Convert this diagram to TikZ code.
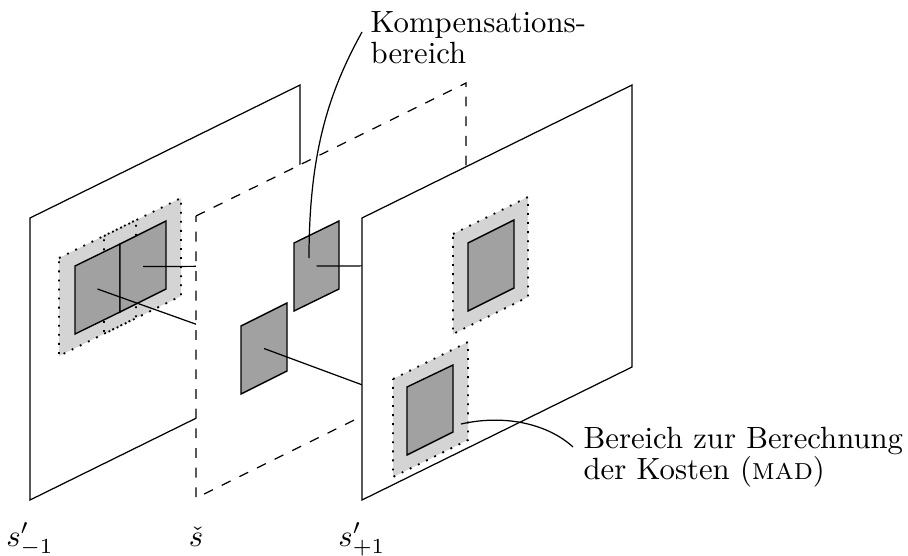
\documentclass[tikz,border=0pt]{standalone}
\begin{document}
\begin{tikzpicture}[x=0.3255pt,y=-0.3255pt,
  plane/.style={draw,fill=white,line width=0.4pt},
  midplane/.style={draw,dash pattern=on 3.2pt off 3.2pt,fill=white,line width=0.4pt},
  searchfill/.style={fill=black!17},
  searchedge/.style={draw,line width=0.6pt,dash pattern=on 0.6pt off 2.35pt},
  block/.style={draw,fill=black!37,line width=0.45pt},
  link/.style={draw,line width=0.4pt},
  callout/.style={draw,line width=0.4pt},
  lbl/.style={inner sep=0pt,align=left},
  planelbl/.style={anchor=base,inner sep=0pt}]
\useasboundingbox (0,0) rectangle (908,555);

% block centres
\coordinate (d1) at (97.5,289);
\coordinate (d2) at (143,266.5);
\coordinate (m1) at (316.5,266);
\coordinate (m2) at (264,348.5);
\coordinate (r1) at (491,265.5);
\coordinate (r2) at (430,410);

% ---- left plane s'_{-1}
\draw[plane] (30,218) -- (300,85) -- (300,367) -- (30,500) -- cycle;
\fill[searchfill] (59,258) -- (136,220) -- (136,318) -- (59,356) -- cycle;
\fill[searchfill] (104,236) -- (181,198) -- (181,296) -- (104,334) -- cycle;
\draw[searchedge] (59,258) -- (136,220) -- (136,318) -- (59,356) -- cycle;
\draw[searchedge] (104,236) -- (181,198) -- (181,296) -- (104,334) -- cycle;
\draw[block] (75,266) -- (120,244) -- (120,312) -- (75,334) -- cycle;
\draw[block] (120,244) -- (166,221) -- (166,289) -- (120,312) -- cycle;
\draw[link] (d2) -- (m1);
\draw[link] (d1) -- (m2);

% ---- middle plane
\draw[midplane] (196,216) -- (466,83) -- (466,365) -- (196,498) -- cycle;
\draw[block] (294,243) -- (339,221) -- (339,289) -- (294,311) -- cycle;
\draw[block] (241,326) -- (287,303) -- (287,371) -- (241,394) -- cycle;
\draw[link] (m1) -- (r1);
\draw[link] (m2) -- (r2);

% ---- right plane s'_{+1}
\draw[plane] (362,218) -- (632,85) -- (632,367) -- (362,500) -- cycle;
\fill[searchfill] (453,234) -- (528,197) -- (528,297) -- (453,334) -- cycle;
\draw[searchedge] (453,234) -- (528,197) -- (528,297) -- (453,334) -- cycle;
\draw[block] (468,243) -- (514,220) -- (514,288) -- (468,311) -- cycle;
\fill[searchfill] (393,379) -- (468,342) -- (468,440) -- (393,477) -- cycle;
\draw[searchedge] (393,379) -- (468,342) -- (468,440) -- (393,477) -- cycle;
\draw[block] (407,387) -- (453,365) -- (453,432) -- (407,455) -- cycle;

% ---- labels
\node[lbl,anchor=north west] (komp) at (370,11) {Kompensations-\\[-2pt]bereich};
\node[lbl,anchor=north west] (mad) at (583,427) {Bereich zur Berechnung\\[-2pt]der Kosten (\textsc{mad})};
\node[planelbl] (lm) at (30,546) {$s'_{-1}$};
\node[planelbl] (lc) at (196,546) {$\check{s}$};
\node[planelbl] (lp) at (362,546) {$s'_{+1}$};

% ---- callouts
\coordinate (kompend) at (362,32);
\coordinate (kompbox) at (309,258);
\coordinate (madstart) at (461,424);
\coordinate (madend) at (573,447);
\draw[callout] (kompbox) .. controls (309,150) and (330,90) .. (kompend);
\draw[callout] (madstart) .. controls (505,414) and (548,424) .. (madend);
\end{tikzpicture}
\end{document}
